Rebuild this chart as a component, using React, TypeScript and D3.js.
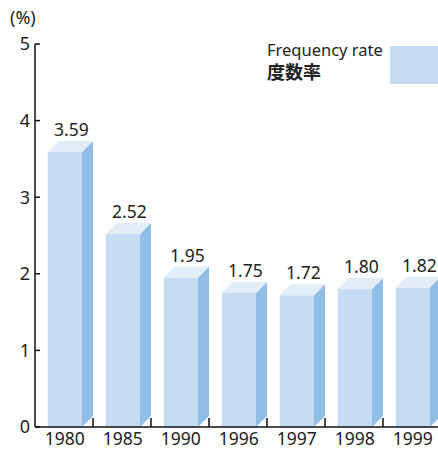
import * as d3 from "d3";

const years = ["1980", "1985", "1990", "1996", "1997", "1998", "1999"];
const rates = [3.59, 2.52, 1.95, 1.75, 1.72, 1.8, 1.82];
const yTicks = [0, 1, 2, 3, 4, 5];

const W = 438;
const H = 449;
const FONT = "'Noto Sans', 'Noto Sans CJK JP', sans-serif";

const FRONT = "#c6dcf2";
const SIDE = "#91bee6";
const TOP = "#e3edf8";

export default function App() {
  const x = d3.scaleBand<string>().domain(years).range([35, 441]).padding(0);
  const y = d3.scaleLinear().domain([0, 5]).range([427, 44]);
  const bw = x.bandwidth();
  const off = bw * 0.22;
  const fw = bw * 0.59;
  const depth = bw * 0.19;
  const base = y(0);

  return (
    <svg
      width={W}
      height={H}
      style={{ position: "absolute", left: 0, top: 0, background: "#fff" }}
      fontFamily={FONT}
    >
      {/* bars */}
      {years.map((yr, i) => {
        const x0 = (x(yr) ?? 0) + off;
        const x1 = x0 + fw;
        const top = y(rates[i]);
        const side = `M${x1},${top} L${x1 + depth},${top - depth} L${x1 + depth},${base - depth} L${x1},${base} Z`;
        const lid = `M${x0},${top} L${x1},${top} L${x1 + depth},${top - depth} L${x0 + depth},${top - depth} Z`;
        return (
          <g key={yr}>
            <rect x={x0} y={top} width={fw} height={base - top} fill={FRONT} />
            <path d={side} fill={SIDE} />
            <path d={lid} fill={TOP} />
            <text
              x={x0 + fw / 2 + depth * 0.6}
              y={top - depth - 5}
              textAnchor="middle"
              fontSize={17.5}
              fill="#222"
            >
              {rates[i].toFixed(2)}
            </text>
          </g>
        );
      })}

      {/* y axis */}
      <line x1={35} x2={35} y1={y(5)} y2={base} stroke="#111" strokeWidth={1.5} />
      {yTicks.map((t) => (
        <g key={t}>
          <line x1={35} x2={40} y1={y(t)} y2={y(t)} stroke="#111" strokeWidth={1.5} />
          <text x={30} y={y(t)} dy="0.36em" textAnchor="end" fontSize={18} fill="#222">
            {t}
          </text>
        </g>
      ))}
      <text x={10} y={24} fontSize={18} fill="#222">
        (%)
      </text>

      {/* x axis */}
      <line x1={35} x2={W} y1={base} y2={base} stroke="#111" strokeWidth={1.5} />
      {years.map((yr) => (
        <g key={yr}>
          <line
            x1={(x(yr) ?? 0) + bw}
            x2={(x(yr) ?? 0) + bw}
            y1={base}
            y2={base - 9}
            stroke="#111"
            strokeWidth={1.5}
          />
          <text
            x={(x(yr) ?? 0) + off + fw / 2}
            y={445}
            textAnchor="middle"
            fontSize={17.5}
            fill="#222"
          >
            {yr}
          </text>
        </g>
      ))}

      {/* legend */}
      <text x={267} y={56} fontSize={16.5} fill="#222">
        Frequency rate
      </text>
      <text x={267} y={79} fontSize={18} fontWeight="bold" fill="#222">
        度数率
      </text>
      <rect x={390} y={46} width={48} height={38} fill={FRONT} />
    </svg>
  );
}
